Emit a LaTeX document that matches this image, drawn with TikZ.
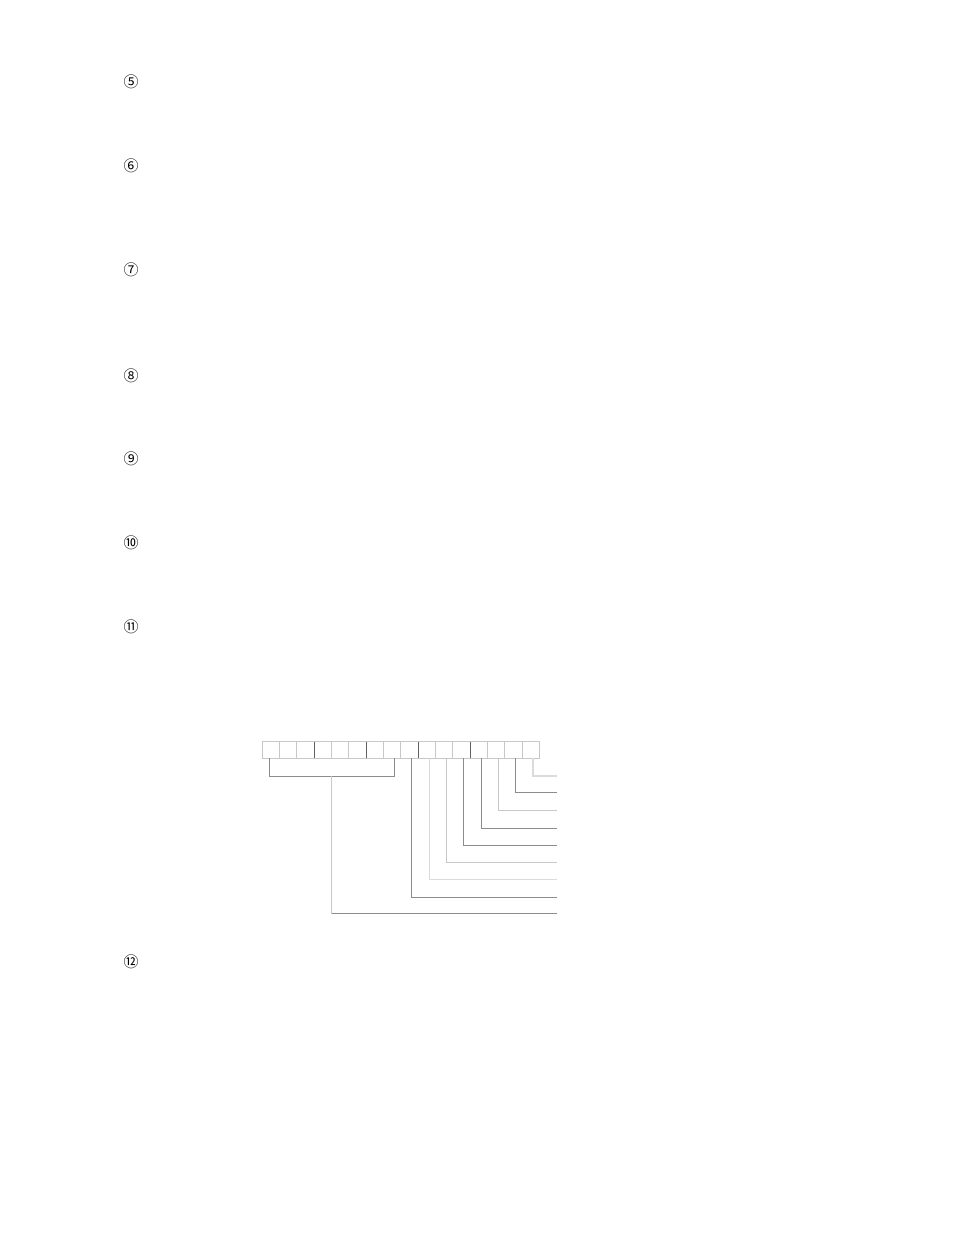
\documentclass[tikz,border=0pt]{standalone}
\usepackage{fontspec}
\newfontfamily\cjk{Noto Sans CJK SC}
\definecolor{lite}{HTML}{C8C8C8}
\definecolor{pale}{HTML}{DADADA}
\definecolor{mid}{HTML}{8C8C8C}
\definecolor{dark}{HTML}{606060}
\begin{document}
\begin{tikzpicture}[x=1pt,y=-1pt,
  cell/.style={draw=lite,line width=0.9pt,minimum width=17.31pt,minimum height=16.6pt,inner sep=0pt,outer sep=0pt},
  num/.style={font=\cjk\fontsize{15}{17}\selectfont,inner sep=0pt},
  midline/.style={draw=mid,line width=1pt},
  paleline/.style={draw=pale,line width=1.4pt},
  liteline/.style={draw=lite,line width=1pt}]
\useasboundingbox (0,0) rectangle (954,1235);
\fill[white] (0,0) rectangle (954,1235);
% circled numbers
\node[num] (n5) at (131,82) {⑤};
\node[num] (n6) at (131,166) {⑥};
\node[num] (n7) at (131,270) {⑦};
\node[num] (n8) at (131,376) {⑧};
\node[num] (n9) at (131,459) {⑨};
\node[num] (n10) at (131,543) {⑩};
\node[num] (n11) at (131,627) {⑪};
\node[num] (n12) at (131,962) {⑫};
% cells
\foreach \i in {0,...,15}{
  \node[cell] (b\i) at ({262.3+(\i+0.5)*17.31},750) {};
}
% darker dividers
\foreach \i in {2,5,8,11}{
  \draw[dark,line width=0.9pt] (b\i.north east) -- (b\i.south east);
}
% end coordinates
\coordinate (e15) at (556.7,776);
\coordinate (e14) at (556.7,792.7);
\coordinate (e13) at (556.7,810);
\coordinate (e12) at (556.7,828.3);
\coordinate (e11) at (556.7,845);
\coordinate (e10) at (556.7,862.3);
\coordinate (e9) at (556.7,879.7);
\coordinate (e8) at (556.7,897.3);
\coordinate (e0) at (556.7,913.7);
\coordinate (bm) at (331.7,776);
% connectors
\draw[paleline] ([xshift=2.5pt]b15.south) |- (e15);
\draw[midline] ([xshift=2.5pt]b14.south) |- (e14);
\draw[liteline] ([xshift=2.5pt]b13.south) |- (e13);
\draw[midline] ([xshift=2.5pt]b12.south) |- (e12);
\draw[midline] ([xshift=2.5pt]b11.south) |- (e11);
\draw[liteline] ([xshift=2.5pt]b10.south) |- (e10);
\draw[paleline] ([xshift=2.5pt]b9.south) |- (e9);
\draw[midline] ([xshift=2.5pt]b8.south) |- (e8);
% bracket
\draw[midline] ([xshift=-1pt]b0.south) |- (bm) -| ([xshift=2pt]b7.south);
\draw[liteline] (bm) |- (e0);
\draw[midline] (bm |- e0) -- (e0);
\end{tikzpicture}
\end{document}
